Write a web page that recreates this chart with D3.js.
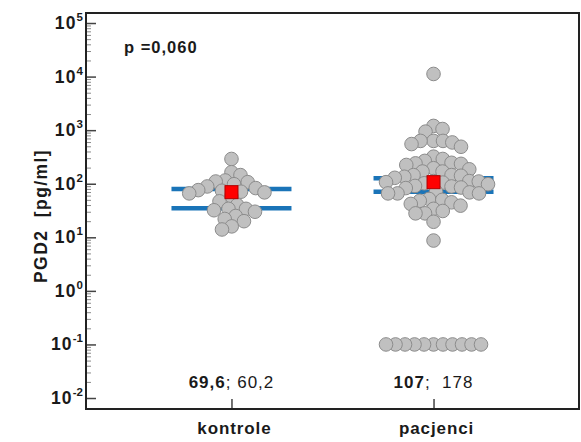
<!DOCTYPE html>
<html>
<head>
<meta charset="utf-8">
<script src="https://cdn.jsdelivr.net/npm/d3@7"></script>
<style>
  body { margin: 0; background: #fff; }
  svg text { font-family: "Liberation Sans", Arial, sans-serif; fill: #1a1a1a; }
</style>
</head>
<body>
<svg id="chart" width="581" height="442"></svg>
<script>
// categories and data
const groups = ["kontrole", "pacjenci"];

const kontrole = [290, 164, 145, 107, 110, 115, 66, 69, 71, 74, 76, 83, 89, 98,
  58, 47, 40, 30, 32, 34, 34, 25, 22, 20, 16, 14];

const pacjenci = [11200, 940, 1050, 1200, 490, 550, 590, 630, 630, 630,
  224, 235, 240, 246, 267, 290, 320, 195, 186, 169, 169, 145,
  129, 135, 141, 145, 83, 85, 89, 91, 98, 102, 105, 107, 110, 112, 112,
  48, 50, 52, 66, 66, 66, 69, 71, 45, 31, 34, 39, 42, 28, 28, 19.5, 8.7,
  0.1, 0.1, 0.1, 0.1, 0.1, 0.1, 0.1, 0.1, 0.1, 0.1, 0.1];

const means = [69.6, 107];
const secondStat = ["60,2", " 178"];
const meanLabels = ["69,6", "107"];
const upperLine = [80, 126];
const lowerLine = [35, 71];
const pValue = "p =0,060";
const yLabel = "PGD2  [pg/ml]";
const majorExp = [-2, -1, 0, 1, 2, 3, 4, 5];

const svg = d3.select("#chart");
const mLeft = 86, mRight = 579, mTop = 13, mBottom = 409;

const y = d3.scaleLog()
  .domain([Math.pow(10, -2.205), Math.pow(10, 5.187)])
  .range([mBottom, mTop]);

const x = d3.scalePoint()
  .domain(groups)
  .range([mLeft, mRight])
  .padding(0.72);

// ticks on the left (inside)
const majors = majorExp.map(e => Math.pow(10, e));
const minors = [];
majorExp.slice(0, -1).forEach(e => {
  for (let k = 2; k <= 9; k++) minors.push(k * Math.pow(10, e));
});

svg.append("g")
  .attr("transform", `translate(${mLeft},0)`)
  .call(d3.axisRight(y).tickValues(minors).tickSize(5).tickFormat(""))
  .call(g => g.select(".domain").remove())
  .call(g => g.selectAll("line").attr("stroke", "#8a8a8a"));

svg.append("g")
  .attr("transform", `translate(${mLeft},0)`)
  .call(d3.axisRight(y).tickValues(majors).tickSize(10).tickFormat(""))
  .call(g => g.select(".domain").remove())
  .call(g => g.selectAll("line").attr("stroke", "#444").attr("stroke-width", 1.5));

// y tick labels with superscripts
const yl = svg.append("g").selectAll("text")
  .data(majorExp)
  .join("text")
  .attr("x", 83)
  .attr("y", d => y(Math.pow(10, d)) + 6)
  .attr("text-anchor", "end")
  .attr("font-weight", "bold")
  .attr("font-size", 17.5)
  .attr("letter-spacing", 1.2);
yl.append("tspan").text("10");
yl.append("tspan")
  .attr("dy", -8)
  .attr("font-size", 11.5)
  .attr("letter-spacing", 0)
  .text(d => d);

// bottom ticks
svg.append("g")
  .attr("transform", `translate(0,${mBottom})`)
  .call(d3.axisTop(x).tickSize(10).tickFormat(""))
  .call(g => g.select(".domain").remove())
  .call(g => g.selectAll("line").attr("stroke", "#444").attr("stroke-width", 1.5));

svg.append("g").selectAll("text")
  .data(groups)
  .join("text")
  .attr("x", d => x(d) + 3)
  .attr("y", 434)
  .attr("text-anchor", "middle")
  .attr("font-weight", "bold")
  .attr("font-size", 17)
  .attr("letter-spacing", 0.9)
  .text(d => d);

// frame
svg.append("rect")
  .attr("x", mLeft).attr("y", mTop)
  .attr("width", mRight - mLeft).attr("height", mBottom - mTop)
  .attr("fill", "none")
  .attr("stroke", "#222")
  .attr("stroke-width", 2);

// y label
svg.append("text")
  .attr("transform", `translate(47,216) rotate(-90)`)
  .attr("text-anchor", "middle")
  .attr("font-weight", "bold")
  .attr("font-size", 17.5)
  .attr("letter-spacing", 1.4)
  .style("white-space", "pre")
  .text(yLabel);

// p value
svg.append("text")
  .attr("x", 124).attr("y", 53)
  .attr("font-weight", "bold")
  .attr("font-size", 16.5)
  .attr("letter-spacing", 1)
  .text(pValue);

// blue lines
const halfW = 60;
groups.forEach((g, i) => {
  [upperLine[i], lowerLine[i]].forEach(v => {
    svg.append("line")
      .attr("x1", x(g) - halfW).attr("x2", x(g) + halfW)
      .attr("y1", y(v)).attr("y2", y(v))
      .attr("stroke", "#1a74b8")
      .attr("stroke-width", 4.5);
  });
});

// simple beeswarm placement (vertical gaps weighted so rows spread sideways)
function swarm(values, cx) {
  const minD = 9.3;
  const step = 0.25;
  const placed = [];
  values.slice().sort((a, b) => b - a).forEach(v => {
    const py = y(v);
    let off = 0;
    for (let s = 0; s < 2000; s++) {
      const cand = s === 0 ? 0 : (s % 2 ? 1 : -1) * Math.ceil(s / 2) * step;
      const ok = placed.every(p => Math.hypot(p.x - (cx + cand), (p.y - py) * 0.85) >= minD);
      if (ok) { off = cand; break; }
    }
    placed.push({ x: cx + off, y: py, v: v });
  });
  return placed;
}

[kontrole, pacjenci].forEach((vals, i) => {
  const pts = swarm(vals, x(groups[i]));
  svg.append("g").selectAll("circle")
    .data(pts)
    .join("circle")
    .attr("cx", d => d.x)
    .attr("cy", d => d.y)
    .attr("r", 6.8)
    .attr("fill", "#c0c0c0")
    .attr("stroke", "#8c8c8c")
    .attr("stroke-width", 1);
});

// mean squares
const sq = 13;
svg.append("g").selectAll("rect")
  .data(groups)
  .join("rect")
  .attr("x", d => x(d) - sq / 2)
  .attr("y", (d, i) => y(means[i]) - sq / 2)
  .attr("width", sq).attr("height", sq)
  .attr("fill", "#ff0000")
  .attr("stroke", "#b00000")
  .attr("stroke-width", 1);

// stats text
const st = svg.append("g").selectAll("text")
  .data(groups)
  .join("text")
  .attr("x", d => x(d))
  .attr("y", 388)
  .attr("text-anchor", "middle")
  .attr("font-size", 17)
  .attr("letter-spacing", 1)
  .style("white-space", "pre");
st.append("tspan").attr("font-weight", "bold").text((d, i) => meanLabels[i]);
st.append("tspan").text((d, i) => "; " + secondStat[i]);
</script>
</body>
</html>
